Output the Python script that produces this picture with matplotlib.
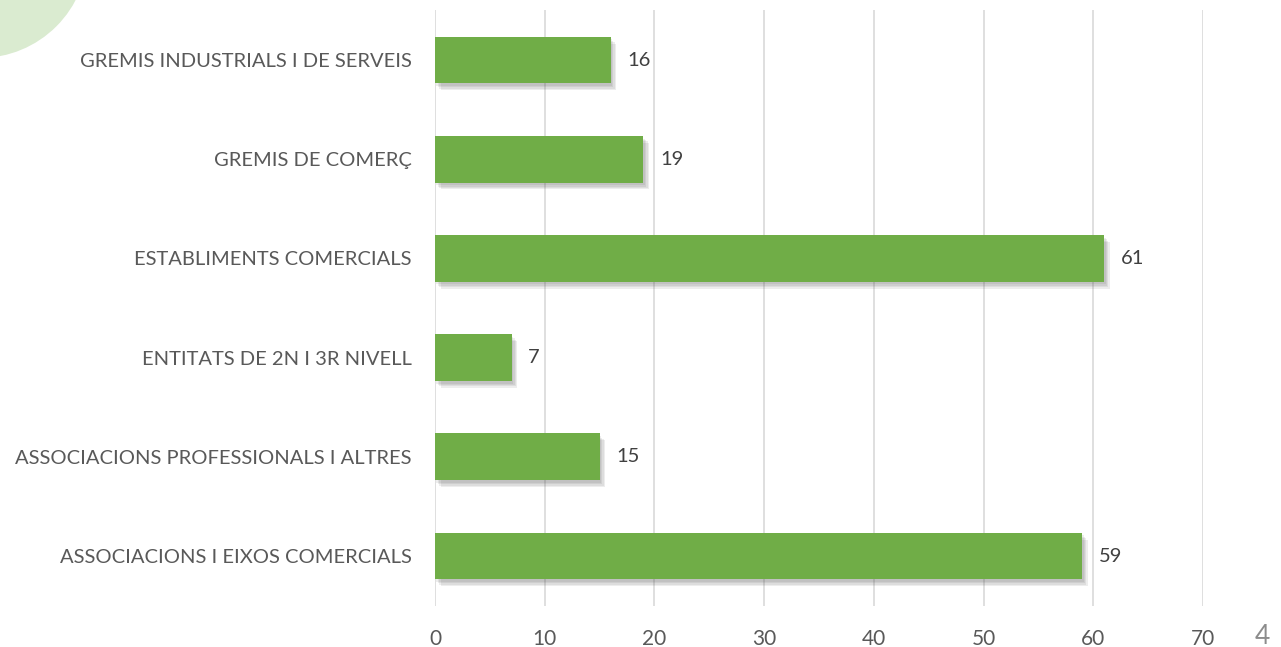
import matplotlib.pyplot as plt
import matplotlib.patheffects as pe
from matplotlib.patches import Ellipse

categories = ['ASSOCIACIONS I EIXOS COMERCIALS',
              'ASSOCIACIONS PROFESSIONALS I ALTRES',
              'ENTITATS DE 2N I 3R NIVELL',
              'ESTABLIMENTS COMERCIALS',
              'GREMIS DE COMERÇ',
              'GREMIS INDUSTRIALS I DE SERVEIS']
values = [59, 15, 7, 61, 19, 16]
x_ticks = [0, 10, 20, 30, 40, 50, 60, 70]
page_number = '4'

plt.rcParams['font.family'] = ['Lato', 'DejaVu Sans']

fig = plt.figure(figsize=(12.81, 6.47), dpi=100)
fig.patch.set_facecolor('white')

# decorative circle in the top-left corner (ellipse in figure coords = circle in pixels)
circ = Ellipse((-20 / 1281, 1 + 50 / 647), 2 * 108 / 1281, 2 * 108 / 647,
               transform=fig.transFigure, facecolor='#DAEBD0',
               edgecolor='none', zorder=0)
fig.patches.append(circ)

ax = fig.add_axes([435 / 1281, 1 - 605.6 / 647, (1203 - 435) / 1281, (605.6 - 10.4) / 647])
ax.set_facecolor('none')

bars = ax.barh(range(len(categories)), values, height=0.47, color='#70AD47', zorder=3)
# soft shadow: several faint offset copies
shadow = [pe.SimplePatchShadow(offset=(o, -o - 1), shadow_rgbFace='#404040', alpha=0.09)
          for o in (4, 3, 2, 1)]
for b in bars:
    b.set_path_effects(shadow + [pe.Normal()])

for i, v in enumerate(values):
    ax.text(v + 1.5, i, str(v), va='center', ha='left', fontsize=14.5, color='#404040')

ax.set_xlim(0, 70)
ax.set_ylim(-0.5, len(categories) - 0.5)
ax.set_xticks(x_ticks)
ax.set_xticklabels([str(t) for t in x_ticks], fontsize=15, color='#595959')
ax.set_yticks(range(len(categories)))
ax.set_yticklabels(categories, fontsize=14.5, color='#595959')
ax.tick_params(axis='x', length=0, pad=17)
ax.tick_params(axis='y', length=0, pad=17)
ax.xaxis.grid(True, color='#D9D9D9', linewidth=1.2, zorder=0)
ax.set_axisbelow(True)
for s in ax.spines.values():
    s.set_visible(False)

fig.text(1262 / 1281, 1 - 636 / 647, page_number, ha='center', va='center',
         fontsize=19, color='#8C8C8C')

plt.savefig('out.png', dpi=100)
